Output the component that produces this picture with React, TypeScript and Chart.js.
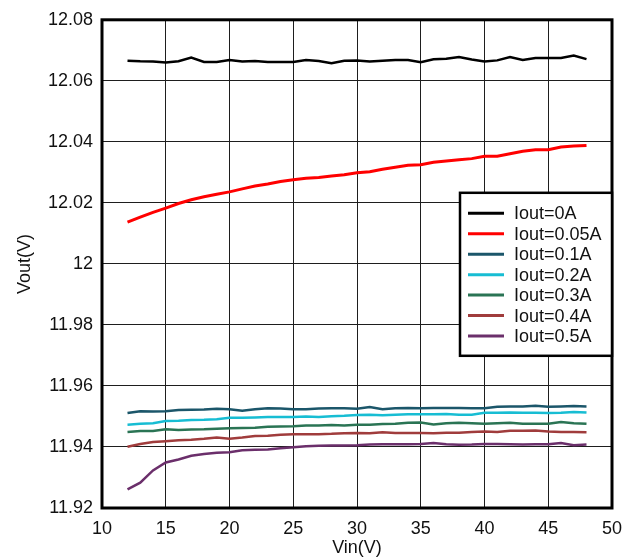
import React, { useEffect, useRef } from "react";
import { Chart, registerables } from "chart.js";

Chart.register(...registerables);

const vin = [12,13,14,15,16,17,18,19,20,21,22,23,24,25,26,27,28,29,30,31,32,33,34,35,36,37,38,39,40,41,42,43,44,45,46,47,48];

const iout0 = [12.0666,12.0664,12.0663,12.0660,12.0664,12.0676,12.0662,12.0662,12.0668,12.0663,12.0665,12.0662,12.0662,12.0662,12.0668,12.0665,12.0658,12.0666,12.0667,12.0663,12.0666,12.0668,12.0668,12.0661,12.0671,12.0672,12.0678,12.0670,12.0663,12.0667,12.0678,12.0668,12.0675,12.0675,12.0675,12.0683,12.0671];
const iout005 = [12.0137,12.0153,12.0169,12.0183,12.0198,12.0210,12.0220,12.0228,12.0236,12.0246,12.0255,12.0262,12.0270,12.0276,12.0281,12.0283,12.0288,12.0292,12.0299,12.0302,12.0310,12.0317,12.0323,12.0325,12.0333,12.0337,12.0341,12.0345,12.0353,12.0353,12.0361,12.0369,12.0374,12.0374,12.0383,12.0386,12.0388];
const iout01 = [11.9511,11.9517,11.9516,11.9517,11.9521,11.9522,11.9523,11.9525,11.9524,11.9519,11.9524,11.9527,11.9526,11.9524,11.9524,11.9526,11.9527,11.9527,11.9525,11.9531,11.9524,11.9527,11.9528,11.9527,11.9528,11.9528,11.9528,11.9527,11.9527,11.9532,11.9533,11.9533,11.9535,11.9532,11.9533,11.9534,11.9533];
const iout02 = [11.9473,11.9476,11.9478,11.9485,11.9486,11.9488,11.9489,11.9491,11.9496,11.9496,11.9497,11.9498,11.9498,11.9498,11.9500,11.9498,11.9501,11.9502,11.9505,11.9506,11.9504,11.9506,11.9507,11.9507,11.9507,11.9508,11.9506,11.9506,11.9512,11.9512,11.9513,11.9512,11.9512,11.9511,11.9512,11.9515,11.9513];
const iout03 = [11.9449,11.9452,11.9452,11.9458,11.9456,11.9457,11.9458,11.9460,11.9461,11.9462,11.9463,11.9466,11.9467,11.9468,11.9470,11.9470,11.9472,11.9470,11.9473,11.9473,11.9475,11.9476,11.9479,11.9480,11.9474,11.9478,11.9479,11.9478,11.9476,11.9478,11.9479,11.9476,11.9476,11.9476,11.9482,11.9478,11.9476];
const iout04 = [11.9401,11.9410,11.9416,11.9419,11.9422,11.9424,11.9427,11.9431,11.9427,11.9431,11.9436,11.9437,11.9440,11.9442,11.9442,11.9442,11.9443,11.9445,11.9446,11.9445,11.9448,11.9446,11.9446,11.9446,11.9445,11.9447,11.9447,11.9449,11.9451,11.9449,11.9453,11.9453,11.9454,11.9451,11.9449,11.9449,11.9448];
const iout05 = [11.9261,11.9283,11.9323,11.9349,11.9359,11.9371,11.9377,11.9381,11.9383,11.9389,11.9391,11.9392,11.9396,11.9399,11.9402,11.9404,11.9405,11.9405,11.9406,11.9408,11.9409,11.9409,11.9409,11.9410,11.9413,11.9409,11.9407,11.9408,11.9410,11.9410,11.9409,11.9408,11.9409,11.9409,11.9413,11.9406,11.9408];

const seriesLabels = ["Iout=0A","Iout=0.05A","Iout=0.1A","Iout=0.2A","Iout=0.3A","Iout=0.4A","Iout=0.5A"];
const seriesValues = [iout0, iout005, iout01, iout02, iout03, iout04, iout05];
const seriesColors = ["#000000","#ff0000","#1b566a","#17bdd3","#2a7454","#a03c3c","#6b2f6b"];

const xTitle = "Vin(V)";
const yTitle = "Vout(V)";

const FONT = "'Liberation Sans', Arial, sans-serif";

const frameAndLegend = {
  id: "frameAndLegend",
  afterDraw(chart: any) {
    const { ctx, chartArea } = chart;
    ctx.save();
    ctx.strokeStyle = "#000";
    ctx.lineWidth = 3;
    ctx.strokeRect(chartArea.left, chartArea.top, chartArea.right - chartArea.left, chartArea.bottom - chartArea.top);

    const bw = 152, bh = 163;
    const bx = chartArea.right - bw;
    const by = chartArea.top + 173;
    ctx.fillStyle = "#fff";
    ctx.fillRect(bx, by, bw, bh);
    ctx.lineWidth = 2.5;
    ctx.strokeRect(bx, by, bw, bh);
    ctx.font = `18px ${FONT}`;
    ctx.textBaseline = "middle";
    ctx.textAlign = "left";
    chart.data.datasets.forEach((ds: any, i: number) => {
      const y = by + 20.5 + i * 20.45;
      ctx.strokeStyle = ds.borderColor;
      ctx.lineWidth = 3;
      ctx.beginPath();
      ctx.moveTo(bx + 8, y);
      ctx.lineTo(bx + 44, y);
      ctx.stroke();
      ctx.fillStyle = "#111";
      ctx.fillText(ds.label, bx + 54, y + 1);
    });
    ctx.restore();
  },
};

export default function App() {
  const ref = useRef<HTMLCanvasElement>(null);
  useEffect(() => {
    if (!ref.current) return;
    const chart = new Chart(ref.current, {
      type: "line",
      data: {
        datasets: seriesValues.map((vals, i) => ({
          label: seriesLabels[i],
          data: vals.map((v, j) => ({ x: vin[j], y: v })),
          borderColor: seriesColors[i],
          backgroundColor: seriesColors[i],
          borderWidth: i === 1 ? 3 : 2.5,
          pointRadius: 0,
          tension: 0,
          fill: false,
        })),
      },
      options: {
        animation: false,
        responsive: true,
        maintainAspectRatio: false,
        layout: { padding: { top: 16, right: 21, left: 0, bottom: 0 } },
        plugins: { legend: { display: false }, tooltip: { enabled: false } },
        scales: {
          x: {
            type: "linear",
            min: 10,
            max: 50,
            ticks: { stepSize: 5, padding: 10, color: "#111", font: { family: FONT, size: 18 } },
            grid: { color: "#1e1e1e", lineWidth: 1, drawTicks: false },
            border: { display: false },
            title: { display: true, text: xTitle, color: "#111", font: { family: FONT, size: 18 }, padding: { top: 0, bottom: 1 } },
            afterFit: (s: any) => { s.height = 52; },
          },
          y: {
            type: "linear",
            min: 11.92,
            max: 12.08,
            ticks: {
              stepSize: 0.02,
              padding: 9,
              color: "#111",
              font: { family: FONT, size: 18 },
              callback: (v: any) => String(Number(Number(v).toFixed(2))),
            },
            grid: { color: "#1e1e1e", lineWidth: 1, drawTicks: false },
            border: { display: false },
            title: { display: true, text: yTitle, color: "#111", font: { family: FONT, size: 18 }, padding: { top: 14, bottom: 0 } },
            afterFit: (s: any) => { s.width = 102; },
          },
        },
      },
      plugins: [frameAndLegend],
    });
    return () => chart.destroy();
  }, []);
  return (
    <div style={{ position: "fixed", left: 0, top: 0, width: 633, height: 560, background: "#fff" }}>
      <canvas ref={ref} />
    </div>
  );
}
